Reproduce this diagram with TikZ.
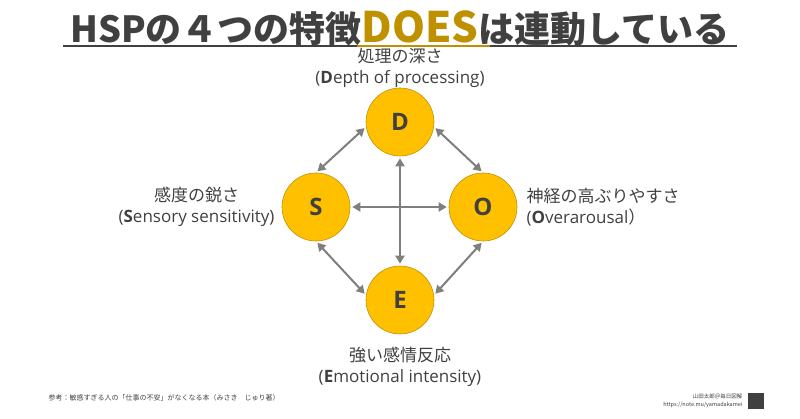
\documentclass[tikz,border=0pt]{standalone}
\usepackage{fontspec}
\setmainfont{Noto Sans CJK JP}
\newfontfamily\lat{Open Sans}
\usetikzlibrary{arrows.meta}
\definecolor{gold}{HTML}{FFC000}
\definecolor{dgold}{HTML}{BF9000}
\definecolor{txt}{HTML}{404040}
\definecolor{arr}{HTML}{7F7F7F}
\begin{document}
\begin{tikzpicture}[x=1pt,y=-1pt,
  circ/.style={circle,fill=gold,draw=dgold,line width=0.6pt,minimum size=68pt,inner sep=0pt,font=\lat\fontsize{24}{24}\selectfont\bfseries,text=txt},
  lab/.style={text=txt,font=\fontsize{17}{21}\selectfont,align=center},
  link/.style={draw=arr,line width=2pt,{Triangle[length=8pt,width=9pt]}-{Triangle[length=8pt,width=9pt]},shorten >=2pt,shorten <=2pt}]
\useasboundingbox (0,0) rectangle (800,419);
\node[text=txt,font=\fontsize{36}{36}\selectfont\bfseries,anchor=base] (title) at (400,43) {HSPの４つの特徴\textcolor{dgold}{\fontsize{42}{42}\selectfont DOES}は連動している};
\draw[txt,line width=2.5pt] (63,46) -- (737,46);
\draw[dgold,line width=2.5pt] (357,46) -- (490,46);
\node[circ] (D) at (400,122) {D};
\node[circ] (S) at (316,207) {S};
\node[circ] (O) at (483,207) {O};
\node[circ] (E) at (400,300) {E};
\draw[link] (D.188) -- (S.north);
\draw[link] (D.352) -- (O.north);
\draw[link] (S.south) -- (E.172);
\draw[link] (O.south) -- (E.8);
\draw[link] (S) -- (O);
\draw[link] (D) -- (E);
\node[lab] (dl) at (400,68) {処理の深さ\\{\lat(\textbf{D}epth of processing)}};
\node[lab,anchor=east] (sl) at (278,207) {感度の鋭さ\\{\lat(\textbf{S}ensory sensitivity)}};
\node[lab,anchor=west,align=left] (ol) at (523,207) {神経の高ぶりやすさ\\{\lat(\textbf{O}verarousal}）};
\node[lab] (el) at (400,367) {強い感情反応\\{\lat(\textbf{E}motional intensity)}};
\node[text=txt,font=\fontsize{7}{8}\selectfont,anchor=west] (ref) at (45,398) {参考：敏感すぎる人の「仕事の不安」がなくなる本（みさき　じゅり著）};
\node[text=txt,font=\fontsize{5.5}{8}\selectfont,align=right,anchor=east] (cr) at (746,401) {山田太郎＠毎日図解\\https://note.mu/yamadakamei};
\fill[txt] (748,393) rectangle (764,409);
\end{tikzpicture}
\end{document}
